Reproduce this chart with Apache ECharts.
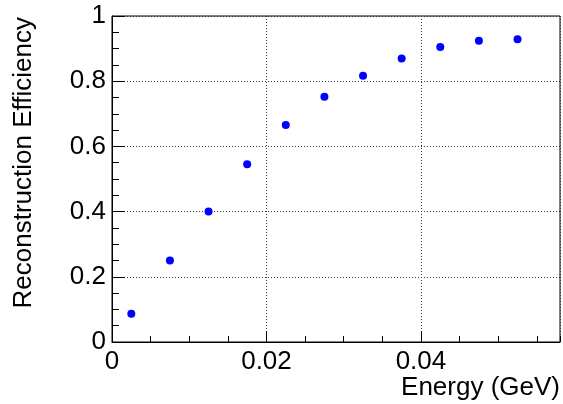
<!DOCTYPE html>
<html>
<head>
<meta charset="utf-8">
<script src="https://cdn.jsdelivr.net/npm/echarts@6/dist/echarts.min.js"></script>
<style>html,body{margin:0;padding:0;background:#fff}#c{width:563px;height:404px}</style>
</head>
<body>
<div id="c"></div>
<script>
// Data
const energies = [0.0025, 0.0075, 0.0125, 0.0175, 0.0225, 0.0275, 0.0325, 0.0375, 0.0425, 0.0475, 0.0525];
const efficiency = [0.087, 0.250, 0.400, 0.545, 0.666, 0.752, 0.817, 0.870, 0.905, 0.924, 0.929];
const xTitle = 'Energy (GeV)';
const yTitle = 'Reconstruction Efficiency';
const xRange = [0, 0.058];
const yRange = [0, 1];

const FONT = '"Liberation Sans", Arial, Helvetica, sans-serif';
const points = energies.map((e, i) => [e, efficiency[i]]);

const chart = echarts.init(document.getElementById('c'), null, {renderer: 'canvas'});
chart.setOption({
  animation: false,
  backgroundColor: '#fff',
  grid: {left: 112, right: 3, top: 16, bottom: 62, show: true, borderColor: '#000', borderWidth: 1, backgroundColor: 'transparent'},
  xAxis: [
    {
      type: 'value', min: xRange[0], max: xRange[1], interval: 0.005, position: 'bottom',
      axisLine: {show: true, onZero: false, lineStyle: {color: '#000', width: 1}},
      axisTick: {show: true, inside: true, length: 6, lineStyle: {color: '#000'}},
      axisLabel: {show: false},
      splitLine: {show: false}
    },
    {
      type: 'value', min: xRange[0], max: xRange[1], interval: 0.02, position: 'bottom',
      axisLine: {show: false, onZero: false},
      axisTick: {show: true, inside: true, length: 11, lineStyle: {color: '#000'}},
      axisLabel: {show: true, showMaxLabel: false, margin: 7, color: '#000', fontFamily: FONT, fontSize: 26,
        formatter: v => (Math.abs(v) < 1e-12 ? '0' : String(Math.round(v * 100) / 100))},
      splitLine: {show: true, lineStyle: {color: '#333', width: 1, type: [1, 2]}}
    }
  ],
  yAxis: {
    type: 'value', min: yRange[0], max: yRange[1], interval: 0.2,
    axisLine: {show: true, onZero: false, lineStyle: {color: '#000', width: 1}},
    axisTick: {show: true, inside: true, length: 13, lineStyle: {color: '#000'}},
    minorTick: {show: true, splitNumber: 4, length: 7, lineStyle: {color: '#000'}},
    axisLabel: {show: true, margin: 6, color: '#000', fontFamily: FONT, fontSize: 26,
      formatter: v => (Math.abs(v) < 1e-12 ? '0' : String(Math.round(v * 10) / 10))},
    splitLine: {show: true, lineStyle: {color: '#333', width: 1, type: [1, 2]}}
  },
  series: [{
    type: 'scatter', xAxisIndex: 1, data: points, symbol: 'circle', symbolSize: 8,
    itemStyle: {color: '#0000ff', opacity: 1}
  }],
  graphic: [
    {type: 'text', right: 3, top: 375, style: {text: xTitle, fill: '#000', font: '26px ' + FONT}},
    {type: 'text', x: 24, y: 17, rotation: Math.PI / 2,
      style: {text: yTitle, fill: '#000', font: '26px ' + FONT, align: 'right', verticalAlign: 'middle'}}
  ]
});
</script>
</body>
</html>
